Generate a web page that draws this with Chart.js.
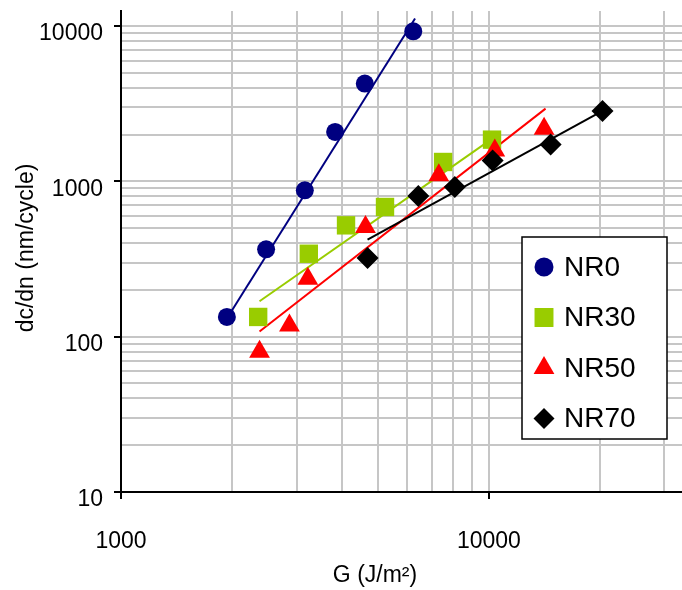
<!DOCTYPE html>
<html>
<head>
<meta charset="utf-8">
<script src="https://cdn.jsdelivr.net/npm/chart.js@4.4.1/dist/chart.umd.min.js"></script>
<style>
  html, body { margin: 0; padding: 0; background: #fff; overflow: hidden; }
  canvas { display: block; }
</style>
</head>
<body>
<canvas id="chart" width="682" height="590"></canvas>
<script>
// =============================
// DATA
// =============================
const nr0G = [1940, 2480, 3160, 3820, 4600, 6230];
const nr0Rate = [134, 365, 875, 2080, 4260, 9250];
const nr0FitG = [1940, 6300];
const nr0FitRate = [131, 11200];

const nr30G = [2360, 3240, 4090, 5220, 7510, 10200];
const nr30Rate = [134, 342, 521, 684, 1333, 1856];
const nr30FitG = [2380, 10100];
const nr30FitRate = [169, 1850];

const nr50G = [2380, 2870, 3220, 4620, 7310, 10380, 14130];
const nr50Rate = [80, 118, 236, 508, 1093, 1583, 2185];
const nr50FitG = [2380, 14260];
const nr50FitRate = [108, 2940];

const nr70G = [4680, 6430, 8080, 10240, 14720, 20370];
const nr70Rate = [321, 805, 920, 1365, 1730, 2840];
const nr70FitG = [4680, 20370];
const nr70FitRate = [421, 2840];

const xLabels = [1000, 10000];
const yLabels = [10, 100, 1000, 10000];

// gridlines 1..9 per decade
function decadeSteps(from, to) {
    const out = [];
    for (let d = from; d <= to; d *= 10) {
        for (let k = 1; k <= 9; k++) {
            if (k * d <= to) out.push(k * d);
        }
    }
    return out;
}
const xGrid = decadeSteps(1000, 30000);
const yGrid = decadeSteps(10, 10000);

const FONT = "'Liberation Sans', Arial, sans-serif";
Chart.defaults.font.family = FONT;
Chart.defaults.color = "#000";

const pts = (xs, ys) => xs.map((x, i) => ({x: x, y: ys[i]}));

function markers(label, xs, ys, color, style, r, order) {
    return {
        label,
        data: pts(xs, ys),
        showLine: false,
        pointStyle: style,
        pointRadius: r,
        pointHoverRadius: r,
        pointBackgroundColor: color,
        pointBorderColor: color,
        pointBorderWidth: 0,
        order,
        legend: true
    };
}

function fitLine(label, xs, ys, color, order) {
    return {
        label,
        data: pts(xs, ys),
        showLine: true,
        borderColor: color,
        borderWidth: 2,
        pointRadius: 0,
        fill: false,
        order
    };
}

const datasets = [
    markers("NR0", nr0G, nr0Rate, "#000080", "circle", 9, 4),
    markers("NR30", nr30G, nr30Rate, "#99cc00", "rect", 13, 3),
    markers("NR50", nr50G, nr50Rate, "#ff0000", "triangle", 12, 2),
    markers("NR70", nr70G, nr70Rate, "#000000", "rectRot", 11, 1),
    fitLine("NR0 fit", nr0FitG, nr0FitRate, "#000080", 8),
    fitLine("NR30 fit", nr30FitG, nr30FitRate, "#99cc00", 7),
    fitLine("NR50 fit", nr50FitG, nr50FitRate, "#ff0000", 6),
    fitLine("NR70 fit", nr70FitG, nr70FitRate, "#000000", 5)
];

// =============================
// TITLES + LEGEND BOX
// =============================
const extras = {
    id: "extras",
    afterDraw(chart) {
        const ctx = chart.ctx;
        ctx.save();
        ctx.fillStyle = "#000";
        ctx.font = "23px " + FONT;
        ctx.textAlign = "center";
        ctx.textBaseline = "middle";
        ctx.fillText("G (J/m²)", 375, 576);

        ctx.save();
        ctx.translate(27, 248);
        ctx.rotate(-Math.PI / 2);
        ctx.fillText("dc/dn (nm/cycle)", 0, 0);
        ctx.restore();

        // legend
        ctx.fillStyle = "#fff";
        ctx.fillRect(522, 237, 145, 202);
        ctx.strokeStyle = "#000";
        ctx.lineWidth = 1.5;
        ctx.strokeRect(522, 237, 145, 202);

        const items = chart.data.datasets.filter(d => d.legend);
        const sizes = {circle: 9.5, rect: 13.4, triangle: 12, rectRot: 10.5};
        ctx.font = "28px " + FONT;
        ctx.textAlign = "left";
        items.forEach((d, i) => {
            const y = 267 + i * 50.5;
            ctx.fillStyle = d.pointBackgroundColor;
            Chart.helpers.drawPoint(ctx, {
                pointStyle: d.pointStyle,
                radius: sizes[d.pointStyle],
                rotation: 0,
                borderWidth: 0
            }, 544, y);
            ctx.fillStyle = "#000";
            ctx.fillText(d.label, 564, y + 1);
        });
        ctx.restore();
    }
};

new Chart(document.getElementById("chart"), {
    type: "scatter",
    data: { datasets },
    plugins: [extras],
    options: {
        responsive: false,
        animation: false,
        layout: { autoPadding: false, padding: { top: 11, right: 0, left: 0, bottom: 0 } },
        plugins: {
            legend: { display: false },
            tooltip: { enabled: false }
        },
        scales: {
            x: {
                type: "logarithmic",
                position: "bottom",
                min: 1000,
                max: 33500,
                afterBuildTicks: s => { s.ticks = xGrid.map(v => ({value: v})); },
                afterFit: s => { s.height = 98; s.paddingLeft = 0; s.paddingRight = 0; },
                grid: {
                    color: "#c6c6c6",
                    lineWidth: 2,
                    tickLength: 7,
                    tickWidth: 2,
                    tickColor: c => (c.tick && xLabels.includes(c.tick.value)) ? "#000" : "rgba(0,0,0,0)"
                },
                border: { color: "#000", width: 2 },
                ticks: {
                    autoSkip: false,
                    maxRotation: 0,
                    padding: 29,
                    font: { size: 23 },
                    color: "#000",
                    callback: v => xLabels.includes(v) ? String(v) : ""
                }
            },
            y: {
                type: "logarithmic",
                min: 10,
                max: 12500,
                afterBuildTicks: s => { s.ticks = yGrid.map(v => ({value: v})); },
                afterFit: s => { s.width = 121; s.paddingTop = 0; s.paddingBottom = 0; },
                grid: {
                    color: "#c6c6c6",
                    lineWidth: 2,
                    tickLength: 7,
                    tickWidth: 2,
                    tickColor: c => (c.tick && yLabels.includes(c.tick.value)) ? "#000" : "rgba(0,0,0,0)"
                },
                border: { color: "#000", width: 2 },
                ticks: {
                    autoSkip: false,
                    padding: 11,
                    labelOffset: 8,
                    font: { size: 23 },
                    color: "#000",
                    callback: v => yLabels.includes(v) ? String(v) : ""
                }
            }
        }
    }
});
</script>
</body>
</html>
